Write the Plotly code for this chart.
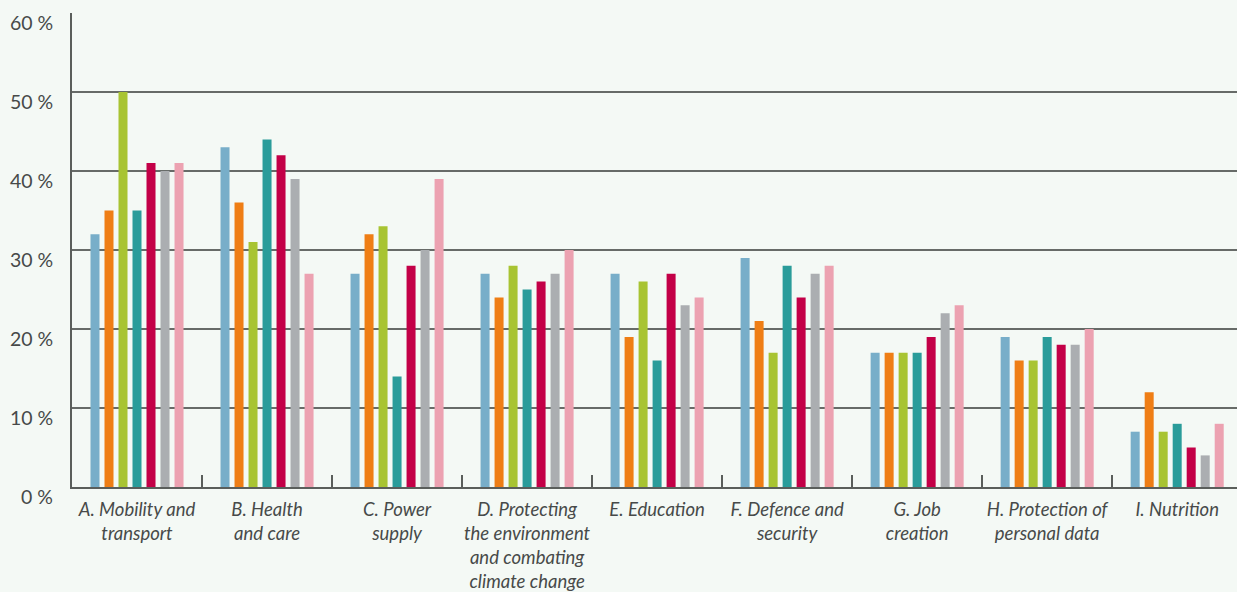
import plotly.graph_objects as go

categories = [
    "A. Mobility and<br>transport",
    "B. Health<br>and care",
    "C. Power<br>supply",
    "D. Protecting<br>the environment<br>and combating<br>climate change",
    "E. Education",
    "F. Defence and<br>security",
    "G. Job<br>creation",
    "H. Protection of<br>personal data",
    "I. Nutrition",
]

series_names = ["Series 1", "Series 2", "Series 3", "Series 4", "Series 5", "Series 6", "Series 7"]
series_colors = ["#78aec9", "#ef7e15", "#a8c432", "#2a9c9a", "#c30047", "#abaeb1", "#eca2b1"]

s1 = [32, 43, 27, 27, 27, 29, 17, 19, 7]
s2 = [35, 36, 32, 24, 19, 21, 17, 16, 12]
s3 = [50, 31, 33, 28, 26, 17, 17, 16, 7]
s4 = [35, 44, 14, 25, 16, 28, 17, 19, 8]
s5 = [41, 42, 28, 26, 27, 24, 19, 18, 5]
s6 = [40, 39, 30, 27, 23, 27, 22, 18, 4]
s7 = [41, 27, 39, 30, 24, 28, 23, 20, 8]
series_values = [s1, s2, s3, s4, s5, s6, s7]

y_tick_vals = [0, 10, 20, 30, 40, 50, 60]
y_tick_text = ["0 %", "10 %", "20 %", "30 %", "40 %", "50 %", "60 %"]

BG = "#f4f9f5"
TEXT = "#474a49"

fig = go.Figure()
for name, color, vals in zip(series_names, series_colors, series_values):
    fig.add_trace(go.Bar(
        x=list(range(len(categories))), y=vals, name=name,
        marker=dict(color=color, line=dict(width=0)),
        showlegend=False,
    ))

for v, t in zip(y_tick_vals, y_tick_text):
    fig.add_annotation(
        x=0, xref="paper", y=v, yref="y", text=t, showarrow=False,
        xanchor="right", yanchor="middle", xshift=-17, yshift=-9,
        font=dict(family="Lato", size=19.5, color=TEXT),
    )

fig.update_layout(
    width=1237, height=592,
    margin=dict(l=72, r=0, t=13, b=105, autoexpand=False),
    paper_bgcolor=BG, plot_bgcolor=BG,
    barmode="group", bargap=0.246, bargroupgap=0.357,
    font=dict(family="Lato", color=TEXT),
)
fig.update_xaxes(
    type="linear",
    range=[-0.5, 8.46],
    tickmode="array",
    tickvals=list(range(len(categories))),
    ticktext=["<i>" + c + "</i>" for c in categories],
    tickfont=dict(family="Lato", size=18.5, color=TEXT),
    ticks="",
    showgrid=False,
    showline=True, linecolor="#5a5e5b", linewidth=2,
    zeroline=False,
    automargin=False,
    ticklabelstandoff=5,
)
# category boundary tick marks
fig.update_layout(xaxis2=dict(
    overlaying="x", matches=None, range=[-0.5, 8.46], showgrid=False,
    tickmode="array", tickvals=[i - 0.5 for i in range(len(categories) + 1)],
    ticks="inside", ticklen=12, tickwidth=2, tickcolor="#5a5e5b",
    showticklabels=False, side="bottom", zeroline=False, showline=False,
    automargin=False,
))
fig.add_trace(go.Scatter(x=[0], y=[None], xaxis="x2", showlegend=False, hoverinfo="skip"))
fig.update_yaxes(
    range=[0, 60],
    tickvals=y_tick_vals,
    showticklabels=False,
    showgrid=True, gridcolor="#676b68", gridwidth=1.6,
    showline=True, linecolor="#5a5e5b", linewidth=2,
    zeroline=False,
    ticks="",
    automargin=False,
)

fig.write_html("out.html")
